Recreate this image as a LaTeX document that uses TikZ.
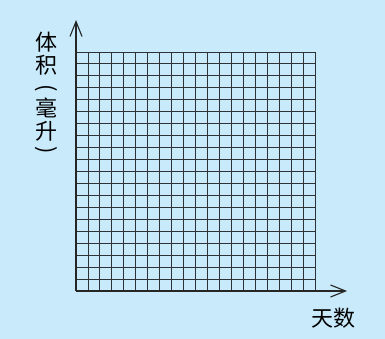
\documentclass[tikz,border=0pt]{standalone}
\usepackage{fontspec}
\newfontfamily\cjk{Noto Sans CJK SC}
\usetikzlibrary{arrows.meta}
\definecolor{paper}{RGB}{200,234,250}
\definecolor{gridgray}{RGB}{45,50,55}

\begin{document}
\begin{tikzpicture}[x=1pt,y=-1pt,
    gridline/.style={gridgray, line width=0.9pt},
    axis/.style={black!85, line width=1.1pt, -{Straight Barb[length=15pt,width=12pt]}},
    axislabel/.style={inner sep=0pt, font=\cjk\fontsize{22}{22}\selectfont}]
    \useasboundingbox (0,0) rectangle (385,339);
    \fill [paper] (0,0) rectangle (385,339);

    % squared paper, 20 by 20
    \foreach \i in {0,...,20} {
        \draw [gridline] (76+\i*11.95,52) -- (76+\i*11.95,291);
        \draw [gridline] (76,291-\i*11.95) -- (315,291-\i*11.95);
    }

    \coordinate (O) at (76,291);
    \coordinate (xend) at (347,291);
    \coordinate (yend) at (76,20);
    \draw [axis] (O) -- (xend);
    \draw [axis] (O) -- (yend);

    \node [axislabel] (days) at (333,318) {天数};
    \foreach \c/\y/\r [count=\k] in {体/41.7/0, 积/65/0, {(}/88/-90, 毫/108/0, 升/131.7/0, {)}/150/-90}
        \node [axislabel, rotate=\r] (vol\k) at (46,\y) {\c};
\end{tikzpicture}
\end{document}
